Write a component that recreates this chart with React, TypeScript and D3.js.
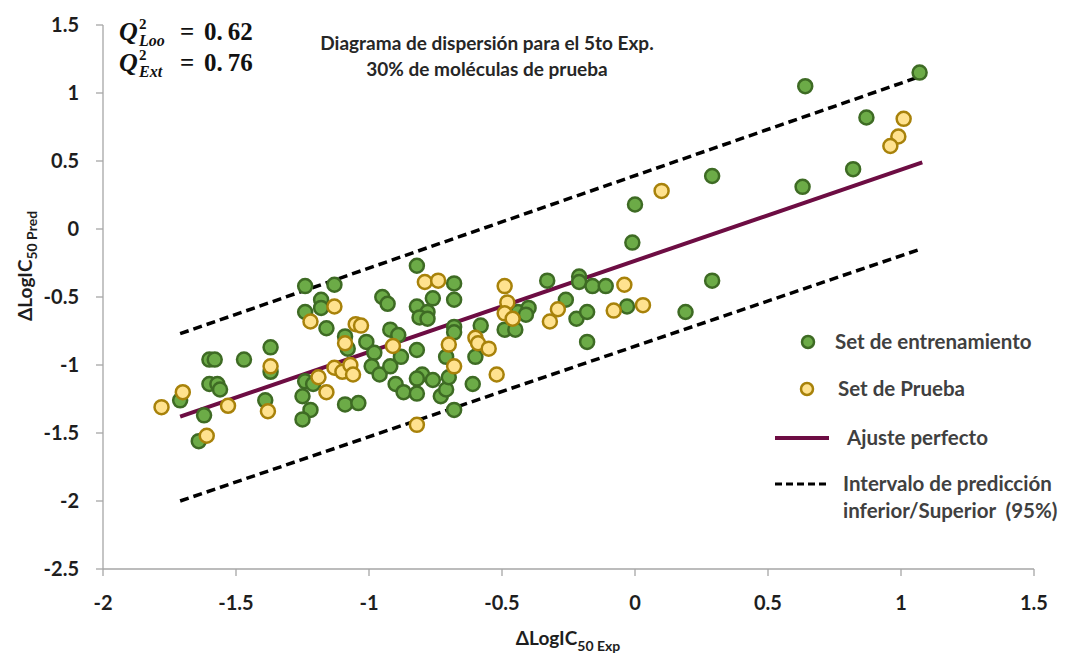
import React from "react";
import * as d3 from "d3";

// training set (green) - experimental vs predicted
const trainExp = [
  -1.24, -1.13, -1.18, -1.24, -1.18, -1.16, -0.95, -0.93, -0.92, -1.09, -1.08, -1.01, -0.98, -0.99, -0.96,
  -0.92, -0.9, -1.37, -1.37, -1.6, -1.58, -1.47, -1.6, -1.57, -1.56, -1.71, -1.62, -1.64, -1.39, -1.24,
  -1.21, -1.25, -1.22, -1.25, -1.09, -1.04, -0.01, -0.82, -0.68, -0.68, -0.82, -0.76, -0.78, -0.81, -0.78,
  -0.89, -0.68, -0.68, -0.58, -0.82, -0.88, -0.87, -0.82, -0.8, -0.82, -0.76, -0.73, -0.71, -0.7, -0.71,
  -0.6, -0.61, -0.68, -0.49, -0.45, -0.44, -0.4, -0.41, -0.33, -0.21, -0.21, -0.16, -0.11, -0.26, -0.22,
  -0.18, -0.18, -0.03, 0.19, 0.64, 1.07, 0.87, 0.29, 0.82, 0.63, 0.29, 0.0,
];
const trainPred = [
  -0.42, -0.41, -0.52, -0.61, -0.58, -0.73, -0.5, -0.55, -0.74, -0.79, -0.88, -0.83, -0.91, -1.01, -1.07,
  -1.01, -1.14, -0.87, -1.05, -0.96, -0.96, -0.96, -1.14, -1.14, -1.18, -1.26, -1.37, -1.56, -1.26, -1.12,
  -1.14, -1.23, -1.33, -1.4, -1.29, -1.28, -0.1, -0.27, -0.4, -0.52, -0.57, -0.51, -0.61, -0.65, -0.66,
  -0.78, -0.72, -0.76, -0.71, -0.89, -0.94, -1.2, -1.21, -1.07, -1.1, -1.11, -1.23, -1.18, -1.09, -0.94,
  -0.94, -1.14, -1.33, -0.74, -0.74, -0.61, -0.58, -0.63, -0.38, -0.35, -0.39, -0.42, -0.42, -0.52, -0.66,
  -0.61, -0.83, -0.57, -0.61, 1.05, 1.15, 0.82, 0.39, 0.44, 0.31, -0.38, 0.18,
];

// test set (yellow)
const testExp = [
  -1.13, -1.22, -1.05, -1.03, -1.09, -0.91, -1.37, -1.19, -1.13, -1.1, -1.07, -1.06, -1.16, -1.7, -1.78,
  -1.53, -1.38, -1.61, -0.79, -0.74, -0.49, -0.48, -0.49, -0.46, -0.7, -0.6, -0.59, -0.55, -0.68, -0.52,
  -0.82, -0.29, -0.32, -0.04, -0.08, 0.03, 1.01, 0.99, 0.96, 0.1,
];
const testPred = [
  -0.57, -0.68, -0.7, -0.71, -0.84, -0.86, -1.01, -1.09, -1.02, -1.05, -1.0, -1.07, -1.2, -1.2, -1.31,
  -1.3, -1.34, -1.52, -0.39, -0.38, -0.42, -0.54, -0.62, -0.66, -0.85, -0.8, -0.84, -0.88, -1.01, -1.07,
  -1.44, -0.59, -0.68, -0.41, -0.6, -0.56, 0.81, 0.68, 0.61, 0.28,
];

// fit line and 95% prediction band ends
const fitExp = [-1.71, 1.08];
const fitPred = [-1.38, 0.49];
const upperExp = [-1.71, 1.07];
const upperPred = [-0.77, 1.12];
const lowerExp = [-1.71, 1.07];
const lowerPred = [-2.0, -0.15];

const xTicks = [-2, -1.5, -1, -0.5, 0, 0.5, 1, 1.5];
const yTicks = [-2.5, -2, -1.5, -1, -0.5, 0, 0.5, 1, 1.5];

const legendLabels = ["Set de entrenamiento", "Set de Prueba", "Ajuste perfecto", "Intervalo de predicción", "inferior/Superior  (95%)"];

const W = 1069;
const H = 656;
const FONT = "Lato, 'Open Sans', sans-serif";
const GREEN = "#6cab47";
const GREEN_DARK = "#3e6b24";
const GOLD = "#ffe28f";
const GOLD_DARK = "#a8820a";
const PURPLE = "#6d0d43";

export default function App() {
  const x = d3.scaleLinear().domain([-2, 1.5]).range([103, 1034]);
  const y = d3.scaleLinear().domain([-2.5, 1.5]).range([569, 25]);

  const line = d3
    .line<[number, number]>()
    .x((d) => x(d[0]))
    .y((d) => y(d[1]));

  const pairs = (a: number[], b: number[]) => a.map((v, i) => [v, b[i]] as [number, number]);

  const axisColor = "#a6a6a6";

  return (
    <svg width={W} height={H} style={{ position: "absolute", left: 0, top: 0, display: "block", background: "#fff" }}>
      {/* axes */}
      <line x1={x(-2)} x2={x(-2)} y1={y(1.5)} y2={y(-2.5)} stroke={axisColor} strokeWidth={1.3} />
      <line x1={x(-2)} x2={x(1.5)} y1={y(-2.5)} y2={y(-2.5)} stroke={axisColor} strokeWidth={1.3} />
      {yTicks.map((t) => (
        <g key={"y" + t}>
          <line x1={x(-2) - 7} x2={x(-2)} y1={y(t)} y2={y(t)} stroke={axisColor} strokeWidth={1.3} />
          <text x={79} y={y(t)} dy="0.36em" textAnchor="end" fontFamily={FONT} fontWeight="bold" fontSize={20} fill="#1e1e1e">
            {String(t)}
          </text>
        </g>
      ))}
      {xTicks.map((t) => (
        <g key={"x" + t}>
          <line x1={x(t)} x2={x(t)} y1={y(-2.5)} y2={y(-2.5) + 7} stroke={axisColor} strokeWidth={1.3} />
          <text x={x(t)} y={610} textAnchor="middle" fontFamily={FONT} fontWeight="bold" fontSize={20} fill="#1e1e1e">
            {String(t)}
          </text>
        </g>
      ))}

      {/* axis titles */}
      <text x={568} y={645} textAnchor="middle" fontFamily={FONT} fontWeight="bold" fontSize={19} fill="#1e1e1e">
        ΔLogIC
        <tspan fontSize={14} dy={6}>50 Exp</tspan>
      </text>
      <text transform="translate(32,266) rotate(-90)" textAnchor="middle" fontFamily={FONT} fontWeight="bold" fontSize={19} fill="#1e1e1e">
        ΔLogIC
        <tspan fontSize={14} dy={5}>50 Pred</tspan>
      </text>

      {/* prediction interval and fit */}
      <path d={line(pairs(upperExp, upperPred)) ?? ""} fill="none" stroke="#000" strokeWidth={3.5} strokeDasharray="9,5" />
      <path d={line(pairs(lowerExp, lowerPred)) ?? ""} fill="none" stroke="#000" strokeWidth={3.5} strokeDasharray="9,5" />
      <path d={line(pairs(fitExp, fitPred)) ?? ""} fill="none" stroke={PURPLE} strokeWidth={4} />

      {/* points */}
      {trainExp.map((v, i) => (
        <circle key={"g" + i} cx={x(v)} cy={y(trainPred[i])} r={7} fill={GREEN} stroke={GREEN_DARK} strokeWidth={2.5} />
      ))}
      {testExp.map((v, i) => (
        <circle key={"o" + i} cx={x(v)} cy={y(testPred[i])} r={7} fill={GOLD} stroke={GOLD_DARK} strokeWidth={2.5} />
      ))}

      {/* Q2 annotation */}
      <g fontFamily="'Liberation Serif', 'DejaVu Serif', serif" fontWeight="bold" fill="#111">
        <text x={119} y={40} fontSize={26} fontStyle="italic">
          Q
          <tspan x={139} dy={-11} fontSize={15} fontStyle="normal">2</tspan>
          <tspan x={139} dy={17} fontSize={16}>Loo</tspan>
          <tspan x={180} dy={-6} fontSize={25} fontStyle="normal">=</tspan>
          <tspan x={204} fontSize={25} fontStyle="normal">0.</tspan>
          <tspan dx={5} fontSize={25} fontStyle="normal">62</tspan>
        </text>
        <text x={119} y={71} fontSize={26} fontStyle="italic">
          Q
          <tspan x={139} dy={-11} fontSize={15} fontStyle="normal">2</tspan>
          <tspan x={139} dy={17} fontSize={16}>Ext</tspan>
          <tspan x={180} dy={-6} fontSize={25} fontStyle="normal">=</tspan>
          <tspan x={204} fontSize={25} fontStyle="normal">0.</tspan>
          <tspan dx={5} fontSize={25} fontStyle="normal">76</tspan>
        </text>
      </g>

      {/* title */}
      <g fontFamily={FONT} fontWeight="bold" fontSize={19} fill="#262626" textAnchor="middle">
        <text x={487} y={50}>Diagrama de dispersión para el 5to Exp.</text>
        <text x={487} y={76}>30% de moléculas de prueba</text>
      </g>

      {/* legend */}
      <g fontFamily={FONT} fontWeight="bold" fontSize={20.5} fill="#404040">
        <circle cx={808} cy={342} r={6} fill={GREEN} stroke={GREEN_DARK} strokeWidth={2.5} />
        <text x={835} y={349}>{legendLabels[0]}</text>
        <circle cx={807} cy={389} r={6} fill={GOLD} stroke={GOLD_DARK} strokeWidth={2.5} />
        <text x={838} y={396}>{legendLabels[1]}</text>
        <line x1={775} x2={829} y1={438} y2={438} stroke={PURPLE} strokeWidth={4} />
        <text x={847} y={445}>{legendLabels[2]}</text>
        <line x1={775} x2={828} y1={484} y2={484} stroke="#000" strokeWidth={3} strokeDasharray="7,4" />
        <text x={843} y={491}>{legendLabels[3]}</text>
        <text x={843} y={518} style={{ whiteSpace: "pre" }}>{legendLabels[4]}</text>
      </g>
    </svg>
  );
}
